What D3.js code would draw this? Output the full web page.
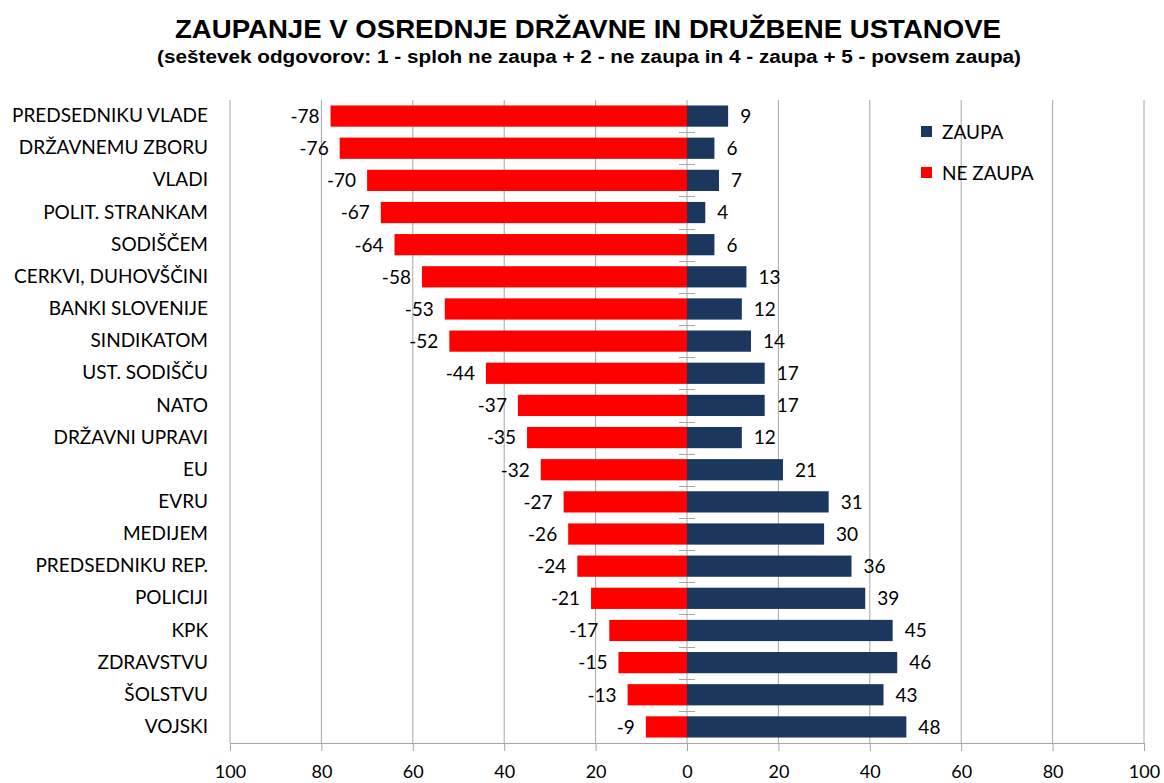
<!DOCTYPE html>
<html>
<head>
<meta charset="utf-8">
<script src="https://cdn.jsdelivr.net/npm/d3@7"></script>
<style>
body { margin: 0; background: #fff; }
</style>
</head>
<body>
<div id="chart-area"></div>
<script>
var categories = ["PREDSEDNIKU VLADE", "DRŽAVNEMU ZBORU", "VLADI", "POLIT. STRANKAM", "SODIŠČEM",
	"CERKVI, DUHOVŠČINI", "BANKI SLOVENIJE", "SINDIKATOM", "UST. SODIŠČU", "NATO",
	"DRŽAVNI UPRAVI", "EU", "EVRU", "MEDIJEM", "PREDSEDNIKU REP.",
	"POLICIJI", "KPK", "ZDRAVSTVU", "ŠOLSTVU", "VOJSKI"];
var zaupa = [9, 6, 7, 4, 6, 13, 12, 14, 17, 17, 12, 21, 31, 30, 36, 39, 45, 46, 43, 48];
var neZaupa = [-78, -76, -70, -67, -64, -58, -53, -52, -44, -37, -35, -32, -27, -26, -24, -21, -17, -15, -13, -9];
var tickValues = [-100, -80, -60, -40, -20, 0, 20, 40, 60, 80, 100];

var width = 1164, height = 783;
var margin = {top: 100, right: 20, bottom: 40, left: 230};
var innerW = width - margin.left - margin.right;
var innerH = height - margin.top - margin.bottom;
var blue = "#1b375e", red = "#ff0000";
var labelFont = "Lato, 'Open Sans', sans-serif";

var svg = d3.select("#chart-area").append("svg")
	.attr("width", width)
	.attr("height", height);

svg.append("text")
	.attr("x", 588).attr("y", 38)
	.attr("text-anchor", "middle")
	.attr("font-family", "'Liberation Sans Narrow', 'Liberation Sans', Arial, sans-serif")
	.attr("font-weight", "bold")
	.attr("font-size", "25px")
	.attr("textLength", 826)
	.attr("lengthAdjust", "spacingAndGlyphs")
	.text("ZAUPANJE V OSREDNJE DRŽAVNE IN DRUŽBENE USTANOVE");

svg.append("text")
	.attr("x", 589).attr("y", 63)
	.attr("text-anchor", "middle")
	.attr("font-family", "'Liberation Sans Narrow', 'Liberation Sans', Arial, sans-serif")
	.attr("font-weight", "bold")
	.attr("font-size", "18px")
	.attr("textLength", 864)
	.attr("lengthAdjust", "spacingAndGlyphs")
	.text("(seštevek odgovorov: 1 - sploh ne zaupa + 2 - ne zaupa in 4 - zaupa + 5 - povsem zaupa)");

var g = svg.append("g")
	.attr("transform", "translate(" + margin.left + "," + margin.top + ")");

var x = d3.scaleLinear().domain([-100, 100]).range([0, innerW]);
var y = d3.scaleBand().domain(categories).range([0, innerH]).paddingInner(0.34).paddingOuter(0.17);

// gridlines
g.selectAll(".grid").data(tickValues.filter(function(d) { return d !== -100; }))
	.enter().append("line")
	.attr("x1", function(d) { return x(d); })
	.attr("x2", function(d) { return x(d); })
	.attr("y1", 0).attr("y2", innerH)
	.attr("stroke", "#a6a6a6").attr("stroke-width", 1);

// x axis
var xAxis = d3.axisBottom(x).tickValues(tickValues).tickSize(8).tickPadding(14)
	.tickFormat(function(d) { return Math.abs(d); });
var xg = g.append("g").attr("transform", "translate(0," + innerH + ")").call(xAxis);
xg.select(".domain").attr("stroke", "#a6a6a6");
xg.selectAll(".tick line").attr("stroke", "#a6a6a6");
xg.selectAll(".tick text").attr("font-family", labelFont).attr("font-size", "18px").attr("fill", "#000");

// left axis line
g.append("line").attr("x1", 0).attr("x2", 0).attr("y1", 0).attr("y2", innerH)
	.attr("stroke", "#a6a6a6");

// category labels
var yAxis = d3.axisLeft(y).tickSize(0).tickPadding(22);
var yg = g.append("g").call(yAxis);
yg.select(".domain").remove();
yg.selectAll(".tick text").attr("font-family", labelFont).attr("font-size", "19px").attr("fill", "#000");

// bars
g.selectAll(".neg").data(neZaupa).enter().append("rect")
	.attr("x", function(d) { return x(d); })
	.attr("y", function(d, i) { return y(categories[i]); })
	.attr("width", function(d) { return x(0) - x(d); })
	.attr("height", y.bandwidth())
	.attr("fill", red);

g.selectAll(".pos").data(zaupa).enter().append("rect")
	.attr("x", x(0))
	.attr("y", function(d, i) { return y(categories[i]); })
	.attr("width", function(d) { return x(d) - x(0); })
	.attr("height", y.bandwidth())
	.attr("fill", blue);

// category ticks at zero
var step = y.step();
var off = y.paddingOuter() * step - y.paddingInner() * step / 2;
g.selectAll(".ztick").data(d3.range(1, categories.length)).enter().append("line")
	.attr("x1", x(0) - 8).attr("x2", x(0) + 8)
	.attr("y1", function(i) { return Math.round(off + i * step) + 0.5; })
	.attr("y2", function(i) { return Math.round(off + i * step) + 0.5; })
	.attr("stroke", "#a6a6a6");

// value labels
g.selectAll(".negLabel").data(neZaupa).enter().append("text")
	.attr("x", function(d) { return x(d) - 11; })
	.attr("y", function(d, i) { return y(categories[i]) + y.bandwidth() / 2; })
	.attr("dy", "0.36em")
	.attr("text-anchor", "end")
	.attr("font-family", labelFont).attr("font-size", "19px")
	.text(function(d) { return d; });

g.selectAll(".posLabel").data(zaupa).enter().append("text")
	.attr("x", function(d) { return x(d) + 12; })
	.attr("y", function(d, i) { return y(categories[i]) + y.bandwidth() / 2; })
	.attr("dy", "0.36em")
	.attr("font-family", labelFont).attr("font-size", "19px")
	.text(function(d) { return d; });

// legend
var legend = [{name: "ZAUPA", color: blue}, {name: "NE ZAUPA", color: red}];
var lg = svg.selectAll(".legend").data(legend).enter().append("g")
	.attr("transform", function(d, i) { return "translate(921," + (126 + i * 41) + ")"; });
lg.append("rect").attr("width", 11).attr("height", 11).attr("fill", function(d) { return d.color; });
lg.append("text").attr("x", 21).attr("y", 6).attr("dy", "0.36em")
	.attr("font-family", labelFont).attr("font-size", "19px")
	.text(function(d) { return d.name; });
</script>
</body>
</html>
